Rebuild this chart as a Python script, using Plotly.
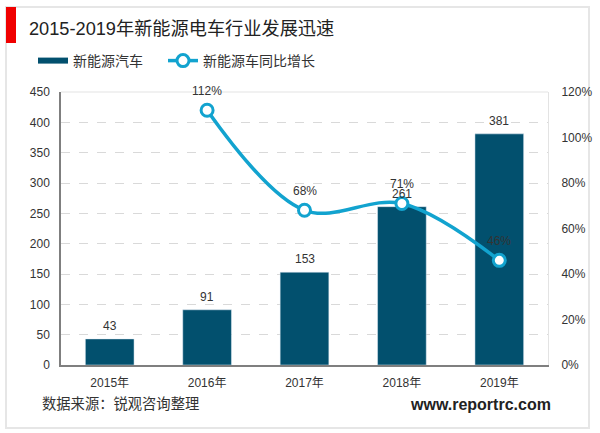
import plotly.graph_objects as go

FONT = "Liberation Sans, Noto Sans CJK SC"
W = 600
H = 433
# plot area edges in page pixels
L, R, T, B = 61, 548, 92, 365

years = ["2015年", "2016年", "2017年", "2018年", "2019年"]
sales = [43, 91, 153, 261, 381]
growth = [None, 112, 68, 71, 46]
growth_labels = ["", "112%", "68%", "71%", "46%"]
left_ticks = [0, 50, 100, 150, 200, 250, 300, 350, 400, 450]
right_ticks = [0, 20, 40, 60, 80, 100, 120]
right_tick_labels = ["0%", "20%", "40%", "60%", "80%", "100%", "120%"]

BAR = "#02506e"
LINE = "#12a3cf"
TEXT = "#333333"


def px(x):
    return (x - L) / (R - L)


def py(y):
    return (B - y) / (B - T)


fig = go.Figure()

fig.add_trace(go.Bar(x=years, y=sales, width=0.5, marker_color=BAR, showlegend=False))

# legend swatch for the bars, plotly's own bar swatch is too small
fig.add_trace(go.Scatter(x=[None], y=[None], mode="lines", name="新能源汽车",
                         line=dict(color=BAR, width=6)))

fig.add_trace(go.Scatter(x=years, y=growth, yaxis="y2", name="新能源车同比增长",
                         mode="lines+markers", cliponaxis=False, legend="legend2",
                         line=dict(color=LINE, width=3.5, shape="spline", smoothing=1.0),
                         marker=dict(size=12, color="white", line=dict(color=LINE, width=3))))

# value labels as annotations, trace text has no offset setting
labels = []
for year, val in zip(years, sales):
    labels.append(dict(x=year, y=val, yref="y", text=str(val), showarrow=False,
                       yanchor="bottom", yshift=4, font=dict(size=12, color=TEXT)))
for year, val, lab in zip(years, growth, growth_labels):
    if val is not None:
        labels.append(dict(x=year, y=val, yref="y2", text=lab, showarrow=False,
                           yanchor="bottom", yshift=10, font=dict(size=12, color=TEXT)))

fig.update_layout(
    width=W, height=H, autosize=False,
    margin=dict(l=L, r=W - R, t=T, b=H - B),
    paper_bgcolor="white", plot_bgcolor="white",
    font=dict(family=FONT, size=12, color=TEXT),
    legend=dict(orientation="h", x=px(33), y=py(61), xanchor="left", yanchor="middle",
                font=dict(size=14, color=TEXT), itemwidth=30, bgcolor="rgba(0,0,0,0)"),
    legend2=dict(orientation="h", x=px(163), y=py(61), xanchor="left", yanchor="middle",
                 font=dict(size=14, color=TEXT), itemwidth=30, bgcolor="rgba(0,0,0,0)"),
    xaxis=dict(range=[-0.5, 4.5], automargin=False, showline=True, linecolor="#7f7f7f",
               linewidth=1.5, ticks="", showgrid=False,
               tickfont=dict(size=12), ticklabelstandoff=6),
    yaxis=dict(range=[0, 450], automargin=False, tickvals=left_ticks, showline=True,
               linecolor="#7f7f7f", linewidth=1.5, showgrid=True, gridcolor="#d9d9d9",
               griddash="dash", gridwidth=1, zeroline=False, tickfont=dict(size=12),
               ticklabelstandoff=7),
    yaxis2=dict(range=[0, 120], automargin=False, tickvals=right_ticks,
                ticktext=right_tick_labels, overlaying="y", side="right", showgrid=False,
                zeroline=False, showline=True, linecolor="#e3e3e3", linewidth=1, mirror=False,
                tickfont=dict(size=12), ticklabelstandoff=10),
    shapes=[
        # outer frame
        dict(type="rect", xref="paper", yref="paper", x0=px(6), x1=px(589), y0=py(428), y1=py(7),
             line=dict(color="#e6e6e6", width=2), fillcolor="rgba(0,0,0,0)", layer="below"),
        # red marker beside the title
        dict(type="rect", xref="paper", yref="paper", x0=px(6), x1=px(16), y0=py(43), y1=py(7),
             line=dict(width=0), fillcolor="#f00000"),
        # top edge of the plot area
        dict(type="line", xref="paper", yref="paper", x0=0, x1=1, y0=1, y1=1,
             line=dict(color="#e3e3e3", width=1), layer="below"),
    ],
    annotations=labels + [
        dict(text="2015-2019年新能源电车行业发展迅速", xref="paper", yref="paper",
             x=px(27), y=py(29), xanchor="left", yanchor="middle", showarrow=False,
             font=dict(size=18.2, color="#222222")),
        dict(text="数据来源：锐观咨询整理", xref="paper", yref="paper",
             x=px(40), y=py(404), xanchor="left", yanchor="middle", showarrow=False,
             font=dict(size=14.3, color=TEXT)),
        dict(text="<b>www.reportrc.com</b>", xref="paper", yref="paper",
             x=px(553), y=py(404), xanchor="right", yanchor="middle", showarrow=False,
             font=dict(size=16, color="#222222")),
    ],
)

# the page's default body margin would push the chart 8px off
fig.write_html("out.html", config={"displayModeBar": False},
               post_script="document.body.style.margin='0';document.body.style.overflow='hidden';")
